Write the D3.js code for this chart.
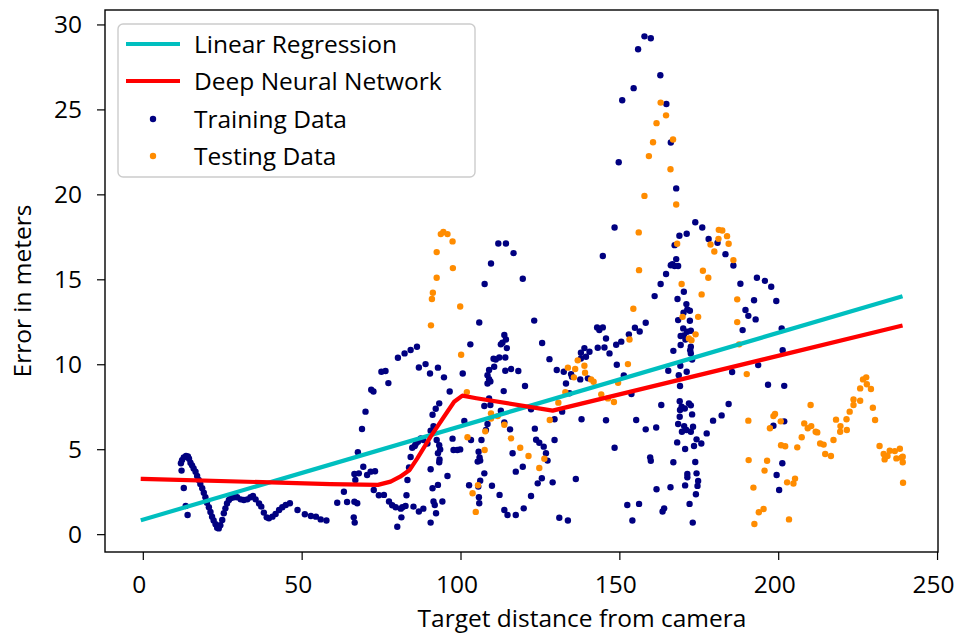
<!DOCTYPE html>
<html><head><meta charset="utf-8">
<script src="https://cdn.jsdelivr.net/npm/d3@7/dist/d3.min.js"></script>
<style>body{margin:0;background:#fff}svg text{font-family:'Open Sans',sans-serif;fill:#000}</style>
</head><body><svg id="c" width="957" height="634"></svg>
<script>
const xTicks=[0,50,100,150,200,250];
const yTicks=[0,5,10,15,20,25,30];
const legendLabels=["Linear Regression","Deep Neural Network","Training Data","Testing Data"];
const xLabel="Target distance from camera";
const yLabel="Error in meters";
const lrLine=[[0,0.85],[238.5,13.97]];
const dnnLine=[[0,3.25],[59,2.95],[74,2.90],[78,3.09],[81,3.38],[84,3.78],[86.4,4.46],[90.6,5.74],[94.8,6.91],[98,7.79],[100.6,8.15],[105,8.0],[129,7.27],[238.5,12.25]];
const trainingData=[
[12.0,4.17],[12.35,4.36],[12.9,4.52],[13.6,4.60],[14.2,4.58],[14.55,4.44],[15.0,4.21],[15.5,4.05],[16.0,3.87],[16.6,3.68],[17.1,3.42],[17.6,3.19],[18.1,2.95],[18.7,2.70],[19.2,2.44],[19.7,2.17],[20.2,1.85],[20.8,1.58],[21.3,1.31],[21.8,1.03],[22.3,0.80],[22.9,0.58],[23.4,0.38],[23.9,0.34],[24.4,0.52],[25.0,0.84],[25.5,1.23],[26.0,1.52],[26.5,1.81],[27.1,2.01],[27.8,2.13],[28.7,2.17],[29.7,2.17],[30.8,2.05],[31.8,2.01],[32.9,2.05],[33.9,2.17],[34.7,2.25],[35.5,2.05],[36.6,1.81],[37.3,1.62],[38.1,1.27],[39.0,0.99],[39.7,0.93],[40.8,1.03],[41.8,1.19],[42.9,1.42],[43.9,1.58],[45.0,1.72],[46.3,1.82],[48.7,1.42],[51.0,1.17],[52.9,1.07],[54.5,1.03],[56.0,0.87],[57.8,0.80],
[12.2,3.74],[12.9,2.72],[13.5,1.66],[14.1,1.13],
[109.6,15.93],[107.6,14.72],[105.9,12.46],[103.1,11.17],[100.7,9.46],[96.6,8.40],[94.8,9.23],[92.9,9.80],[90.4,9.46],[89.0,10.01],[86.9,9.81],[86.3,11.03],[84.3,10.84],[82.4,10.64],[80.3,10.38],[77.3,8.89],[76.4,9.60],[75.1,9.56],[72.6,8.40],[71.9,8.50],[70.1,7.21],[69.0,6.19],[67.7,4.82],[69.4,3.97],[71.7,3.68],[73.1,3.70],[70.6,3.48],[68.0,3.58],[66.6,3.54],[66.9,3.19],[63.3,2.50],[61.2,1.85],[64.3,1.89],[66.6,1.91],[67.5,1.82],[72.7,2.60],[74.3,2.29],[75.9,2.31],[77.5,1.92],[78.5,1.70],[79.6,1.58],[81.2,1.50],[81.7,1.58],[82.7,1.66],[83.0,2.29],[85.2,1.62],[86.9,1.33],[88.3,1.50],[90.6,0.68],[80.1,0.44],[81.4,0.99],[66.4,0.99],[66.7,0.68],[92.3,1.23],[91.9,1.72],[91.5,1.92],[92.9,2.90],[91.2,2.70],[94.3,1.92],[95.9,3.42],[90.6,3.82],[84.3,4.54],[84.8,5.09],[85.6,5.19],[85.9,5.30],[86.6,5.44],[87.5,5.64],[88.3,5.54],[89.6,5.34],[90.6,6.09],[91.5,6.36],[91.2,7.03],[92.2,7.38],[93.3,7.70],[92.5,5.54],[93.3,5.23],[93.6,4.99],[92.9,4.76],[93.4,4.40],[93.3,4.23],[83.8,3.93],[83.3,3.19],[97.5,5.62],[97.8,4.95],[99.0,4.95],[99.9,4.99],[101.2,6.66],[103.3,5.54],[106.6,5.54],[108.0,6.13],[108.5,6.48],[109.4,7.60],[108.5,8.87],[108.5,9.36],[109.0,9.66],[105.7,4.85],[106.0,4.52],[105.4,4.27],[106.2,4.33],[107.5,3.58],[106.2,3.15],[102.7,2.88],[105.8,2.17],[105.9,1.82],
[148.5,18.05],[144.8,16.37],[111.9,17.11],[114.3,17.11],[116.7,16.54],[119.6,15.03],[123.2,12.57],[113.8,11.72],[114.3,11.46],[113.2,11.27],[114.6,10.95],[112.7,11.17],[114.1,10.40],[112.2,10.40],[110.4,10.32],[111.1,10.28],[110.6,9.85],[109.0,9.12],[109.4,8.99],[115.9,9.72],[114.1,9.62],[118.2,9.60],[120.3,8.72],[113.6,8.42],[109.0,7.99],[107.5,7.54],[112.7,7.27],[122.2,7.35],[113.8,6.58],[115.6,6.17],[123.4,6.21],[123.8,5.56],[124.8,5.38],[126.2,5.15],[126.9,4.76],[127.4,4.33],[129.6,5.54],[116.4,4.76],[119.6,3.97],[117.4,3.68],[125.6,3.29],[124.3,2.99],[129.0,3.05],[122.2,2.25],[112.3,2.31],[109.9,2.85],[105.6,2.80],[113.8,1.42],[114.8,1.13],[117.4,1.13],[119.9,1.52],[131.1,0.97],[133.8,0.80],[136.3,3.25],[125.7,11.25],[128.0,10.30],[130.3,9.66],[132.5,9.56],[134.8,9.42],[135.1,9.27],[133.2,8.87],[137.7,9.11],[140.1,9.17],[137.9,10.68],[139.0,10.95],[140.6,10.74],[139.5,10.44],[137.9,10.34],[143.2,10.97],[143.7,12.01],[143.0,12.17],[144.8,12.17],[145.8,11.52],[145.3,10.99],[146.9,10.64],[149.0,11.15],[149.2,9.97],[150.6,11.33],[132.0,7.21],[129.6,6.76],[138.1,6.76],[145.8,6.70],[148.5,5.09],[134.3,8.29],
[157.9,29.30],[159.9,29.19],[155.9,28.54],[162.9,27.01],[154.5,26.25],[150.9,25.54],[164.8,25.32],[166.2,23.05],[149.8,21.89],[167.9,20.35],[173.9,18.36],[176.1,18.05],[171.2,17.68],[168.9,17.56],[178.1,17.37],[180.9,17.15],[183.4,16.48],[167.4,17.01],[167.9,16.19],
[166.7,15.89],[167.4,15.78],[166.2,15.83],[168.5,15.78],[164.7,15.31],[163.0,14.72],[161.1,14.01],[170.3,14.27],[168.3,13.84],[171.1,13.54],[171.4,13.23],[172.2,13.15],[170.2,13.03],[168.5,12.60],[172.2,12.56],[170.1,12.11],[171.3,11.91],[172.5,11.97],[170.3,11.70],[169.3,11.66],[170.8,11.46],[172.5,11.03],[172.3,10.83],[172.5,10.64],[172.9,10.28],[169.3,11.13],[167.0,10.79],[169.2,9.91],[171.2,9.56],[165.4,9.62],[168.7,9.36],[169.1,8.72],[185.9,15.81],[188.1,14.74],[193.3,15.09],[192.4,13.77],[189.7,13.19],[190.6,12.85],[192.9,12.64],[188.8,12.01],[193.7,9.95],[185.5,9.54],[153.0,11.76],[154.9,12.15],[156.4,11.93],[158.3,12.44],[151.4,9.34],[153.8,8.25],[169.0,7.82],[169.6,7.50],[171.9,7.70],[172.5,7.58],[169.1,7.31],[170.6,7.40],[172.9,7.05],[169.0,6.91],[168.5,6.48],[170.4,6.36],[171.1,6.13],[172.5,6.03],[169.7,6.03],[173.2,6.32],[174.3,5.58],[175.8,5.34],[177.5,5.93],[179.5,6.68],[182.2,6.99],[184.4,7.66],[173.5,5.19],[168.2,5.40],[170.7,5.01],[155.3,6.72],[158.3,6.17],[161.6,6.28],[163.2,7.60],[159.7,4.52],[159.9,4.32],[167.0,4.23],[173.9,4.25],[174.3,3.58],[171.4,3.54],[171.4,3.35],[174.8,3.13],[174.6,2.84],[174.1,2.35],[170.7,2.87],[166.1,2.76],[161.7,2.64],[172.1,1.78],[164.1,1.52],[163.6,1.33],[152.5,1.72],[156.2,1.78],[154.1,0.80],[173.1,0.68],
[195.8,14.91],[197.8,14.56],[199.4,13.72],[201.1,12.11],[201.4,10.83],[196.8,8.79],[201.9,8.73],[198.5,6.38],[201.9,6.64],[201.3,4.17],[199.5,3.48],[200.3,2.60]
];
const testingData=[
[93.8,17.66],[94.6,17.78],[95.9,17.66],[97.5,17.23],[92.5,16.60],[97.6,15.66],[92.5,15.09],[91.3,14.21],[91.0,13.84],[99.9,13.40],[90.7,12.29],[100.2,10.56],[102.0,8.36],[102.2,5.70],[107.8,6.05],[107.6,4.95],[105.5,2.88],[103.8,2.41],[104.8,1.31],
[136.9,10.23],[133.8,9.80],[136.1,9.72],[139.0,9.91],[139.2,9.50],[135.7,9.23],[141.1,9.11],[141.9,8.97],[133.0,8.36],[130.8,7.74],[144.3,8.23],[146.4,7.99],[148.3,7.78],[149.6,8.91],[128.1,6.72],[109.6,7.11],[109.6,6.81],[111.7,6.95],[113.8,6.44],[115.9,5.64],[118.8,5.09],[121.4,4.60],[126.4,4.44],[124.8,3.89],
[163.0,25.40],[164.7,24.65],[161.7,24.19],[166.9,23.23],[160.6,23.07],[159.3,22.25],[166.1,21.48],[157.9,19.91],[167.9,19.40],[156.1,17.76],[168.2,17.09],[181.3,17.91],[182.4,17.87],[183.9,17.54],[181.2,17.38],[178.7,17.05],[179.9,16.64],[184.4,17.09],
[156.2,15.54],[154.4,13.27],[152.7,10.01],[153.2,11.46],[169.9,12.79],[174.8,12.79],[169.6,14.72],[175.9,14.11],[171.9,11.52],[172.7,11.42],[174.0,11.76],[176.3,15.50],[178.0,15.09],[185.9,16.13],[187.1,13.82],[187.1,12.48],[190.1,9.42],[187.7,11.17],[190.6,6.68],[190.7,4.36],[192.2,2.74],[193.9,1.29],[192.5,0.60],
[195.4,1.48],[195.7,3.74],[196.5,4.32],[197.4,6.23],[198.5,6.95],[199.0,7.07],[200.8,6.64],[200.9,5.23],[202.2,5.17],[202.8,3.05],[204.8,2.98],[205.3,3.27],[203.4,0.87],[206.0,5.11],[207.4,5.70],[208.2,6.52],[210.2,7.60],[209.3,6.23],[210.4,6.36],[211.8,6.03],[212.3,5.99],[213.2,5.34],[214.3,5.27],[214.8,4.72],[216.6,4.60],[217.4,5.54],[218.2,6.74],[219.6,6.36],[219.5,6.03],[221.6,6.13],[221.5,6.76],[222.5,7.21],[223.7,7.60],[223.7,7.93],[225.8,7.85],[225.8,8.58],[226.7,9.11],[227.7,9.23],[227.9,8.82],[229.2,8.54],[229.8,7.44],[230.5,6.72],[231.9,5.19],[233.2,4.72],[233.5,4.40],[234.4,4.60],[235.1,4.91],[236.7,4.89],[238.3,5.03],[237.2,4.46],[238.8,4.50],[239.2,4.56],[239.2,4.23],[239.3,3.03]
];

const L=105,R=938,T=10,B=552, FS=24.5;
const svg=d3.select("#c");
const x=d3.scaleLinear().domain([-11.9,250.3]).range([L,R]);
const y=d3.scaleLinear().domain([-1.05,30.85]).range([B,T]);
const colors={lr:"#00bfbf",dnn:"#ff0000",train:"#000080",test:"#ff8c00"};
svg.append("clipPath").attr("id","clp").append("rect").attr("x",L).attr("y",T).attr("width",R-L).attr("height",B-T);
const g=svg.append("g").attr("clip-path","url(#clp)");
g.selectAll("circle.tr").data(trainingData).join("circle").attr("class","tr")
 .attr("cx",d=>x(d[0])).attr("cy",d=>y(d[1])).attr("r",3.2).attr("fill",colors.train);
g.selectAll("circle.te").data(testingData).join("circle").attr("class","te")
 .attr("cx",d=>x(d[0])).attr("cy",d=>y(d[1])).attr("r",3.2).attr("fill",colors.test);
const line=d3.line().x(d=>x(d[0])).y(d=>y(d[1]));
g.append("path").datum(lrLine).attr("d",line).attr("fill","none").attr("stroke",colors.lr).attr("stroke-width",4.2).attr("stroke-linecap","square");
g.append("path").datum(dnnLine).attr("d",line).attr("fill","none").attr("stroke",colors.dnn).attr("stroke-width",4.2).attr("stroke-linejoin","round").attr("stroke-linecap","square");

// axes
const xa=svg.append("g").attr("transform",`translate(0,${B})`).call(d3.axisBottom(x).tickValues(xTicks).tickSize(8).tickPadding(16));
const ya=svg.append("g").attr("transform",`translate(${L},0)`).call(d3.axisLeft(y).tickValues(yTicks).tickSize(8).tickPadding(15));
[xa,ya].forEach(a=>{a.select(".domain").remove();a.selectAll("line").attr("stroke","#000").attr("stroke-width",1.2);a.selectAll("text").style("font-size",FS+"px").style("font-family","'Open Sans',sans-serif").attr("fill","#000");});
xa.selectAll("text").attr("dx",-4);
svg.append("rect").attr("x",L).attr("y",T).attr("width",R-L).attr("height",B-T).attr("fill","none").attr("stroke","#000").attr("stroke-width",1.4);

svg.append("text").attr("x",582).attr("y",627).attr("text-anchor","middle").style("font-size",FS+"px").text(xLabel);
svg.append("text").attr("transform","translate(31,291) rotate(-90)").attr("text-anchor","middle").style("font-size",FS+"px").text(yLabel);

// legend
const lg=svg.append("g");
lg.append("rect").attr("x",118).attr("y",24).attr("width",357).attr("height",153).attr("rx",5).attr("fill","#fff").attr("fill-opacity",0.8).attr("stroke","#cccccc").attr("stroke-width",1.4);
const rowsY=[44,81,119,156];
const kinds=["lr","dnn","train","test"];
kinds.forEach((k,i)=>{
  if(k==="lr"||k==="dnn"){
    lg.append("line").attr("x1",126).attr("x2",180).attr("y1",rowsY[i]).attr("y2",rowsY[i]).attr("stroke",colors[k]).attr("stroke-width",4.2);
  } else {
    lg.append("circle").attr("cx",153).attr("cy",rowsY[i]).attr("r",3.2).attr("fill",colors[k]);
  }
  lg.append("text").attr("x",194).attr("y",rowsY[i]).attr("dy","0.36em").style("font-size",FS+"px").text(legendLabels[i]);
});
</script></body></html>
